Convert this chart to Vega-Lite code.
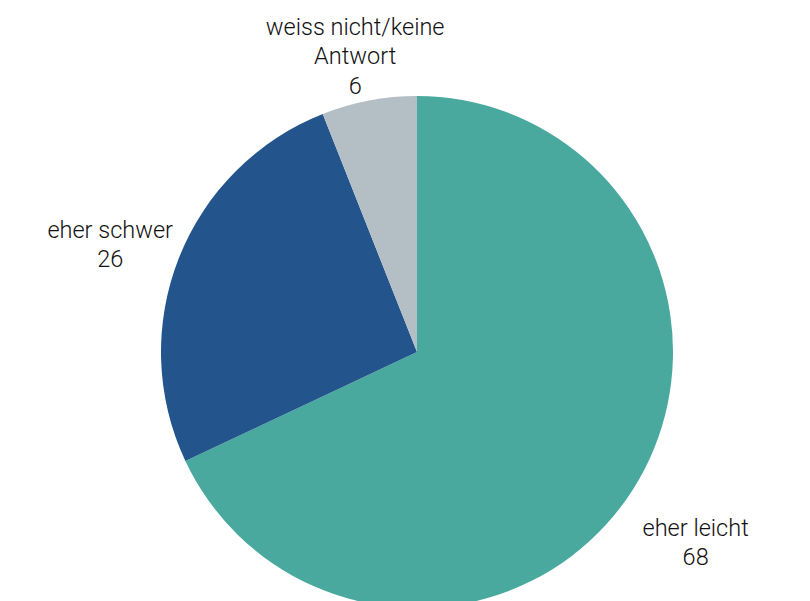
{
  "$schema": "https://vega.github.io/schema/vega-lite/v6.json",
  "width": 810,
  "height": 601,
  "autosize": {"type": "fit", "contains": "padding"},
  "padding": {"top": 67, "left": 24, "right": 0, "bottom": 0},
  "background": "white",
  "config": {"view": {"stroke": null}},
  "data": {
    "values": [
      {"idx": 1, "name": "eher leicht", "value": 68},
      {"idx": 2, "name": "eher schwer", "value": 26},
      {"idx": 3, "name": "weiss nicht/keine\nAntwort", "value": 6}
    ]
  },
  "transform": [{"calculate": "datum.name + '\\n' + datum.value", "as": "label"}],
  "encoding": {
    "theta": {"field": "value", "type": "quantitative", "stack": true},
    "order": {"field": "idx", "type": "quantitative"}
  },
  "layer": [
    {
      "mark": {"type": "arc", "outerRadius": 256},
      "encoding": {
        "color": {
          "field": "name",
          "type": "nominal",
          "scale": {
            "domain": ["eher leicht", "eher schwer", "weiss nicht/keine\nAntwort"],
            "range": ["#4AA99F", "#23548C", "#B4BEC5"]
          },
          "legend": null
        }
      }
    },
    {
      "mark": {
        "type": "text",
        "radius": 330,
        "font": "Roboto",
        "fontWeight": 300,
        "fontSize": 23.5,
        "lineHeight": 29.5,
        "lineBreak": "\n",
        "color": "#111111",
        "align": "center",
        "baseline": "middle"
      },
      "encoding": {
        "text": {"field": "label", "type": "nominal"}
      }
    }
  ]
}
